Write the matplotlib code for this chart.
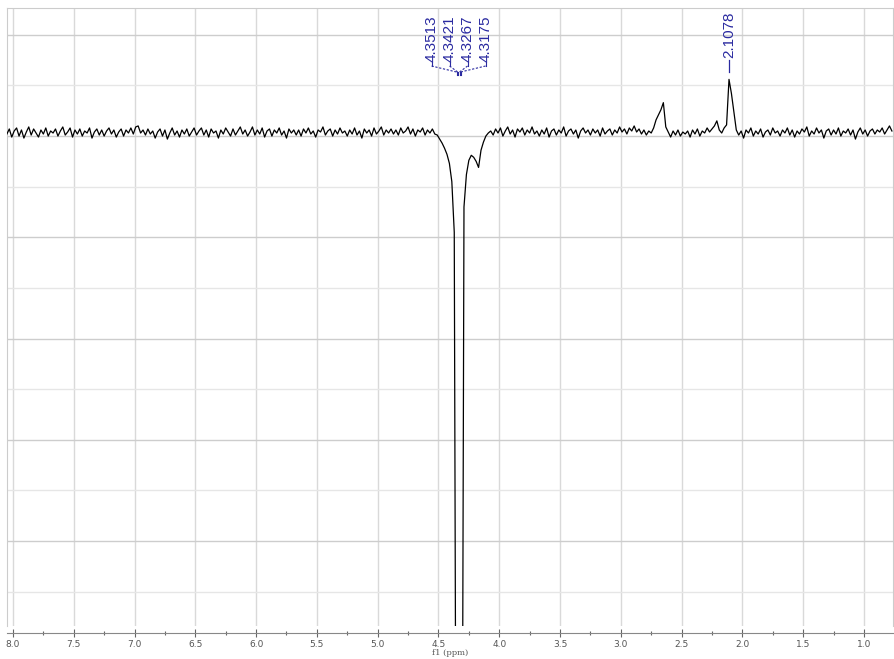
import numpy as np
import matplotlib.pyplot as plt
import matplotlib.transforms as mtransforms
from matplotlib.ticker import MultipleLocator, FormatStrFormatter

ppm_start = 8.05
ppm_step = 0.02
intensity = [
    2, 7, -1, 5, 8, 0, 6, -2, 4, 9, 1, 7, 3, -1, 6, 2, 8, 0, 5, 3,       # 8.05
    7, 0, 5, 9, 1, 4, 8, -1, 6, 2, 7, 0, 5, 3, 8, -2, 4, 7, 1, 6,       # 7.65
    0, 5, 8, 2, 6, -1, 4, 7, 0, 6, 3, 8, 2, 9, 10, 3, 6, 1, 7, 2,       # 7.25
    5, -2, 4, 7, 0, 6, -3, 3, 8, 1, 5, -1, 6, 2, 7, 0, 4, 8, 1, 5,      # 6.85
    8, 1, 6, -1, 7, 3, 5, -2, 6, 2, 8, 4, 0, 7, 1, 5, 9, 2, 6, 0,       # 6.45
    4, 9, 1, 6, 2, 8, -1, 5, 7, 0, 6, 3, 8, 1, 5, -2, 7, 3, 6, 1,       # 6.05
    6, 0, 7, 3, 8, 2, 5, -1, 6, 4, 9, 1, 5, 7, 0, 6, 2, 8, 3, 5,        # 5.65
    0, 6, 2, 8, 1, 5, -2, 7, 3, 6, 0, 8, 2, 5, 9, 1, 6, 3, 7, 2,        # 5.25
    6, 1, 8, 3, 5, 9, 2, 7, 0, 6, 4, 8, 1, 6, 3, 7, 2, 1, -3, -7,       # 4.85
    -12, -18, -27, -45, -95, -900, -1000, -900, -70, -38,
    -24, -19, -21, -25, -31, -14, -6, 0, 3, 5,                          # 4.45
    1, 7, 3, 8, 0, 5, 9, 2, 6, -1, 7, 4, 8, 1, 6, 3, 9, 2, 5, 0,        # 4.05
    6, 2, 8, -1, 5, 7, 1, 6, 3, 9, 0, 5, 7, 2, 6, -2, 5, 8, 3, 6,       # 3.65
    1, 7, 3, 6, 0, 8, 2, 5, 7, 1, 6, 3, 9, 4, 7, 2, 8, 5, 10, 4,        # 3.25
    7, 2, 6, 1, 5, 3, 8, 16, 21, 26, 33, 9, 4, -1, 5, 1, 6, 0, 4, 2,    # 2.85
    5, -1, 6, 2, 7, 0, 5, 3, 8, 4, 7, 10, 15, 6, 3, 8, 11, 56, 42, 24,  # 2.45
    6, 1, 5, -2, 6, 3, 8, 0, 5, 2, 7, -1, 4, 6, 1, 8, 3, 5, 0, 6,       # 2.05
    3, 8, 1, 6, -1, 5, 2, 7, 4, 9, 0, 5, 2, 8, 3, 6, -2, 5, 7, 1,       # 1.65
    6, 2, 8, 0, 5, 3, 7, 1, 6, -3, 4, 8, 2, 6, 0, 5, 7, 2, 6, 4,        # 1.25
    8, 2, 6, 10, 5,                                                     # 0.85
]
ppm = ppm_start - ppm_step * np.arange(len(intensity))

multiplet_peaks = [4.3513, 4.3421, 4.3267, 4.3175]
single_peak = 2.1078

label_color = '#2a2aa0'
px_per_ppm = 886 / (8.049 - 0.761)

fig = plt.figure(figsize=(8.94, 6.59), dpi=100)
ax = fig.add_axes([7 / 894, 33 / 659, 886 / 894, 618 / 659])

ax.plot(ppm, intensity, color='black', lw=0.9, zorder=3)
ax.set_xlim(8.049, 0.761)
ax.set_ylim(-484, 126.5)

# grid
ax.xaxis.set_major_locator(MultipleLocator(0.5))
ax.xaxis.set_minor_locator(MultipleLocator(0.25))
ax.xaxis.set_major_formatter(FormatStrFormatter('%.1f'))
ax.yaxis.set_major_locator(MultipleLocator(100))
ax.yaxis.set_minor_locator(MultipleLocator(50))
ax.grid(axis='x', which='major', color='#d9d9d9', lw=1.0)
ax.grid(axis='y', which='major', color='#cdcdcd', lw=1.0)
ax.grid(axis='y', which='minor', color='#e6e6e6', lw=1.0)
ax.set_axisbelow(True)

ax.tick_params(axis='y', which='both', left=False, labelleft=False)
ax.tick_params(axis='x', which='major', direction='inout', length=6, width=0.8,
               color='#666666', labelsize=6.5, labelcolor='#555555', pad=2)
ax.tick_params(axis='x', which='minor', direction='inout', length=3, width=0.8,
               color='#666666')
for lab in ax.get_xticklabels():
    lab.set_family('DejaVu Serif')

for side in ['top', 'left', 'right']:
    ax.spines[side].set_color('#cccccc')
    ax.spines[side].set_linewidth(0.8)
ax.spines['bottom'].set_position(('outward', 5))
ax.spines['bottom'].set_color('#888888')
ax.spines['bottom'].set_linewidth(0.8)

ax.set_xlabel('f1 (ppm)', fontsize=6, color='#555555', family='DejaVu Serif', labelpad=0)

# peak labels
trans = mtransforms.blended_transform_factory(ax.transData, ax.transAxes)


def yfrac(px):
    return (626 - px) / 618


center = np.mean(multiplet_peaks)
offsets = [-27, -9, 9, 27]
for pk, off in zip(multiplet_peaks, offsets):
    lx = center - off / px_per_ppm
    ax.text(lx, yfrac(62), f'{pk:.4f}', rotation=90, ha='center', va='bottom',
            fontsize=11, color=label_color, family='Liberation Sans', transform=trans)
    ax.plot([lx, lx], [yfrac(62), yfrac(66)], color=label_color, lw=0.8,
            transform=trans, clip_on=False)
    ax.plot([lx, pk], [yfrac(66), yfrac(72)], color=label_color, lw=0.8,
            ls=(0, (2, 1.5)), transform=trans, clip_on=False)
    ax.plot([pk, pk], [yfrac(72), yfrac(75)], color=label_color, lw=0.8,
            transform=trans, clip_on=False)

ax.text(single_peak, yfrac(58), f'{single_peak:.4f}', rotation=90, ha='center',
        va='bottom', fontsize=11, color=label_color, family='Liberation Sans',
        transform=trans)
ax.plot([single_peak, single_peak], [yfrac(60), yfrac(72)], color=label_color,
        lw=0.9, transform=trans, clip_on=False)

fig.savefig('out.png', dpi=100)
